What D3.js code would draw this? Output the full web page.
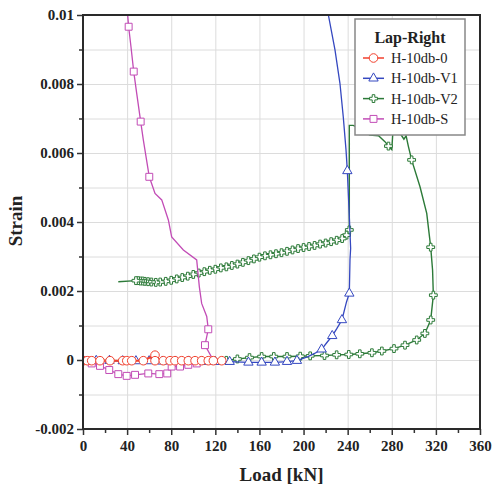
<!DOCTYPE html>
<html>
<head>
<meta charset="utf-8">
<script src="https://cdn.jsdelivr.net/npm/d3@7"></script>
<style>
  body { margin: 0; background: #fff; }
  text { font-family: "Liberation Serif", "Times New Roman", serif; }
</style>
</head>
<body>
<svg id="chart" width="497" height="487"></svg>
<script>
// [load kN, strain, marker?]
var h0 = [
  [0.3,-0.00002,1],[3.9,-0.00002,1],[7.9,-0.00002,1],[15.4,-0.00002,1],[24.5,-0.00002,1],
  [36,-0.00002,1],[39.7,-0.00002,1],[44.2,-0.00002,1],[54.7,-0.00002,1],[65.3,0.00014,1],
  [65.3,-0.00002,1],[72.8,-0.00002,1],[78.9,-0.00002,1],[83.4,-0.00002,1],[89.5,-0.00002,1],
  [95.5,-0.00002,1],[101.6,-0.00002,1],[107.6,-0.00002,1],[113.6,-0.00002,1],[118.2,-0.00002,1],
  [125.8,-0.00002,1]
];
var v1 = [
  [0,0,1],[12,-0.00002,1],[24,-0.00002,1],[36,-0.00003,1],[48,-0.00003,1],[60,-0.00003,1],
  [72,-0.00004,1],[84,-0.00004,1],[96,-0.00004,1],[108,-0.00005,1],[120,-0.00005,1],
  [133,-0.00005,1],[150,-0.00007,1],[162,-0.00007,1],[174,-0.00007,1],[185,-0.00005,1],
  [194,-0.00002,1],[204,0.0001,0],[210,0.00019,0],[216.4,0.00031,1],[221,0.0005,0],
  [226,0.0007,1],[230,0.0009,0],[234.8,0.00116,1],[239,0.00169,0],[241.5,0.00193,1],
  [242.1,0.0029,0],[242.7,0.00324,0],[241.5,0.00415,0],[239.7,0.00548,1],[238.5,0.00609,0],
  [236,0.00705,0],[233,0.00802,0],[228.5,0.00899,0],[222.5,0.01,0]
];
var v2 = [
  [0,0,0],[20,-0.00001,0],[40,-0.00002,0],[60,-0.00002,0],[80,-0.00002,0],[100,-0.00003,0],
  [120,-0.00003,0],[130,-0.00001,1],[140,0.00003,1],[151,0.00007,1],[162,0.0001,1],
  [173,0.0001,1],[185,0.0001,1],[197,0.00011,1],[206,0.00012,1],[219,0.00013,1],
  [230,0.00015,1],[241,0.00016,1],[251,0.00018,1],[262,0.00021,1],[271,0.00026,1],
  [282,0.00033,1],[292,0.00043,1],[302.6,0.00058,1],[310,0.00077,1],[315.3,0.00116,1],
  [317.7,0.00188,1],[317,0.0026,0],[315.3,0.00327,1],[311.7,0.00425,0],[305.6,0.00502,0],
  [298,0.0058,1],[295,0.0062,0],[293,0.0065,0],[291,0.0064,0],[289,0.0065,0],[285,0.0067,0],
  [281,0.0066,0],[280,0.0061,0],[277,0.0062,1],[273.8,0.00633,0],[268,0.0065,0],
  [260,0.00652,0],[252,0.0067,0],[245,0.0068,0],[241.5,0.0068,0],[241.5,0.00377,1],
  [239,0.00362,1],[235,0.00352,1],[230,0.00347,1],[225,0.00343,1],[220,0.00339,1],
  [215,0.00336,1],[210,0.00332,1],[205,0.00329,1],[200,0.00326,1],[195,0.00323,1],
  [190,0.00319,1],[185,0.00315,1],[180,0.00311,1],[175,0.00308,1],[170,0.00305,1],
  [165,0.00302,1],[160,0.00298,1],[155,0.00293,1],[150,0.00288,1],[145,0.00283,1],
  [140,0.00278,1],[135,0.00274,1],[130,0.0027,1],[125,0.00267,1],[120,0.00263,1],
  [115,0.0026,1],[110,0.00256,1],[105,0.00252,1],[100,0.00248,1],[95,0.00243,1],
  [90,0.00239,1],[85,0.00235,1],[80,0.00231,1],[75,0.00228,1],[70,0.00226,1],
  [66,0.00225,1],[62,0.00226,1],[59,0.00227,1],[56,0.00228,1],[54,0.00229,1],
  [52,0.00229,1],[50,0.0023,1],[48,0.0023,1],[32,0.00227,0]
];
var hS = [
  [0,0,0],[3.4,-0.00002,1],[7.9,-0.0001,1],[15.4,-0.00017,1],[23.8,-0.00029,1],
  [32,-0.00041,1],[39.6,-0.00046,1],[47.2,-0.00043,1],[59.2,-0.00039,1],[69.2,-0.00041,1],
  [76.4,-0.00039,1],[80.4,-0.00019,1],[88,-0.00019,1],[95.5,-0.00014,1],[103.1,-0.0001,1],
  [110,-0.00005,0],[118,0,0],[110.6,0.00043,1],[113.6,0.00089,1],[112.2,0.00126,0],
  [107.6,0.00164,0],[105.5,0.00212,0],[103.1,0.0029,0],[91,0.00319,0],[80.4,0.00357,0],
  [77.4,0.00406,0],[71.4,0.00464,0],[65.3,0.00483,0],[60.1,0.00531,1],[54.7,0.00638,0],
  [52.3,0.00691,1],[48.7,0.00773,0],[46,0.00836,1],[43.5,0.00908,0],[41.4,0.00966,1],
  [40.5,0.01,0]
];

var seriesNames = ["H-10db-0", "H-10db-V1", "H-10db-V2", "H-10db-S"];
var xTicks = [0, 40, 80, 120, 160, 200, 240, 280, 320, 360];
var yTicks = [-0.002, 0, 0.002, 0.004, 0.006, 0.008, 0.01];
var yTickLabels = ["-0.002", "0", "0.002", "0.004", "0.006", "0.008", "0.01"];

var series = [
  {name: seriesNames[0], data: h0, color: "#f2412e", sym: d3.symbolCircle, size: 58, lw: 2},
  {name: seriesNames[1], data: v1, color: "#3548c0", sym: d3.symbolTriangle, size: 38, lw: 1.3},
  {name: seriesNames[2], data: v2, color: "#2c7a38", sym: d3.symbolCross, size: 34, lw: 1.4},
  {name: seriesNames[3], data: hS, color: "#c24cb6", sym: d3.symbolSquare, size: 48, lw: 1.3}
];

var margin = {top: 15, right: 17, bottom: 58, left: 83},
    width = 497 - margin.left - margin.right,
    height = 487 - margin.top - margin.bottom;

var svg = d3.select("#chart")
  .append("g")
    .attr("transform", "translate(" + margin.left + "," + margin.top + ")");

var x = d3.scaleLinear().domain([0, 360]).range([0, width]);
var y = d3.scaleLinear().domain([-0.002, 0.01]).range([height, 0]);

// grid
svg.append("g")
  .call(d3.axisBottom(x).tickValues(xTicks).tickSize(height).tickFormat(""))
  .call(function(g) { g.select(".domain").remove(); })
  .selectAll("line").attr("stroke", "#dcdcdc").attr("stroke-width", 1);
svg.append("g")
  .call(d3.axisLeft(y).tickValues(d3.range(-2, 11).map(function(d) { return d / 1000; }))
    .tickSize(-width).tickFormat(""))
  .call(function(g) { g.select(".domain").remove(); })
  .selectAll("line").attr("stroke", "#dcdcdc").attr("stroke-width", 1);

// axes: minor ticks then major
var minorX = d3.range(20, 360, 40);
svg.append("g")
  .attr("transform", "translate(0," + height + ")")
  .call(d3.axisBottom(x).tickValues(minorX).tickSize(4).tickFormat(""))
  .call(function(g) { g.select(".domain").remove(); })
  .selectAll("line").attr("stroke", "#333").attr("stroke-width", 1.5);
var xAxis = svg.append("g")
  .attr("transform", "translate(0," + height + ")")
  .call(d3.axisBottom(x).tickValues(xTicks).tickSize(6).tickPadding(5));
xAxis.select(".domain").remove();
xAxis.selectAll("line").attr("stroke", "#333").attr("stroke-width", 1.5);
xAxis.selectAll("text")
  .style("font-family", "Liberation Serif").style("font-size", "15px")
  .style("font-weight", "bold").attr("fill", "#222");

var minorY = [-0.001, 0.001, 0.003, 0.005, 0.007, 0.009];
svg.append("g")
  .call(d3.axisLeft(y).tickValues(minorY).tickSize(4).tickFormat(""))
  .call(function(g) { g.select(".domain").remove(); })
  .selectAll("line").attr("stroke", "#333").attr("stroke-width", 1.5);
var yAxis = svg.append("g")
  .call(d3.axisLeft(y).tickValues(yTicks).tickSize(6).tickPadding(3)
    .tickFormat(function(d, i) { return yTickLabels[i]; }));
yAxis.select(".domain").remove();
yAxis.selectAll("line").attr("stroke", "#333").attr("stroke-width", 1.5);
yAxis.selectAll("text")
  .style("font-family", "Liberation Serif").style("font-size", "15px")
  .style("font-weight", "bold").attr("fill", "#222");

// clip
svg.append("clipPath").attr("id", "clip")
  .append("rect").attr("width", width).attr("height", height);

var line = d3.line()
  .x(function(d) { return x(d[0]); })
  .y(function(d) { return y(d[1]); });

var plot = svg.append("g").attr("clip-path", "url(#clip)");

// draw in order so red sits on top like reference
var order = [2, 1, 3, 0];
order.forEach(function(k) {
  var s = series[k];
  var g = plot.append("g");
  g.append("path")
    .datum(s.data)
    .attr("d", line)
    .attr("fill", "none")
    .attr("stroke", s.color)
    .attr("stroke-width", s.lw);
  g.selectAll("path.mk")
    .data(s.data.filter(function(d) { return d[2]; }))
    .enter()
    .append("path")
      .attr("class", "mk")
      .attr("transform", function(d) { return "translate(" + x(d[0]) + "," + y(d[1]) + ")"; })
      .attr("d", d3.symbol().type(s.sym).size(s.size))
      .attr("fill", "#fff")
      .attr("stroke", s.color)
      .attr("stroke-width", 1);
});

// frame
svg.append("rect")
  .attr("width", width).attr("height", height)
  .attr("fill", "none").attr("stroke", "#2a2a2a").attr("stroke-width", 2);

// axis titles
svg.append("text")
  .attr("x", width / 2).attr("y", height + 52)
  .attr("text-anchor", "middle")
  .style("font-size", "19px").style("font-weight", "bold").attr("fill", "#222")
  .text("Load [kN]");
svg.append("text")
  .attr("transform", "translate(-61," + (height / 2 - 1) + ")rotate(-90)")
  .attr("text-anchor", "middle")
  .style("font-size", "19px").style("font-weight", "bold").attr("fill", "#222")
  .text("Strain");

// legend
var lg = svg.append("g").attr("transform", "translate(" + (355 - margin.left) + "," + (19 - margin.top) + ")");
lg.append("rect")
  .attr("width", 110).attr("height", 116)
  .attr("fill", "#fff").attr("stroke", "#888").attr("stroke-width", 1.5);
lg.append("text")
  .attr("x", 55).attr("y", 24)
  .attr("text-anchor", "middle")
  .style("font-size", "16px").style("font-weight", "bold").attr("fill", "#222")
  .text("Lap-Right");
series.forEach(function(s, i) {
  var yy = 39 + i * 20.3;
  lg.append("line")
    .attr("x1", 8).attr("x2", 29).attr("y1", yy).attr("y2", yy)
    .attr("stroke", s.color).attr("stroke-width", 1.5);
  lg.append("path")
    .attr("transform", "translate(18.5," + yy + ")")
    .attr("d", d3.symbol().type(s.sym).size(s.size))
    .attr("fill", "#fff").attr("stroke", s.color).attr("stroke-width", 1);
  lg.append("text")
    .attr("x", 36).attr("y", yy + 5)
    .style("font-size", "14.5px").attr("fill", "#222")
    .text(s.name);
});
</script>
</body>
</html>
